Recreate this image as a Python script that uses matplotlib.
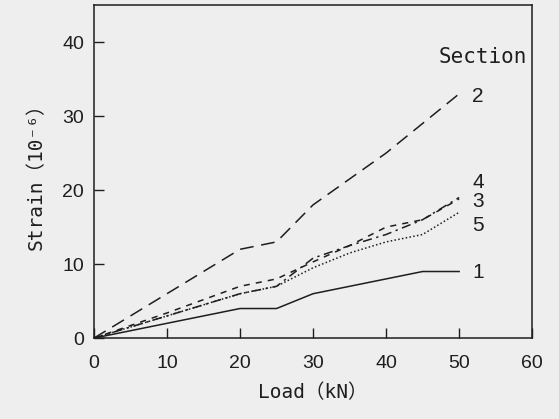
import matplotlib
matplotlib.use("Agg")
import matplotlib.pyplot as plt

load = [0, 5, 10, 15, 20, 25, 30, 35, 40, 45, 50]
sec1 = [0, 1.0, 2.0, 3.0, 4.0, 4.0, 6.0, 7.0, 8.0, 9.0, 9.0]
sec2 = [0, 3.0, 6.0, 9.0, 12.0, 13.0, 18.0, 21.5, 25.0, 29.0, 33.0]
sec3 = [0, 1.7, 3.4, 5.2, 7.0, 8.0, 10.3, 12.5, 15.0, 16.0, 18.8]
sec4 = [0, 1.5, 3.0, 4.5, 6.0, 7.0, 10.8, 12.5, 14.0, 16.0, 19.0]
sec5 = [0, 1.5, 3.0, 4.5, 6.0, 7.0, 9.5, 11.5, 13.0, 14.0, 17.0]
labels = ["1", "2", "3", "4", "5"]
label_y = [8.9, 32.6, 18.5, 21.0, 15.2]

plt.rcParams["font.family"] = ["Liberation Sans", "DejaVu Sans"]
mono = ["DejaVu Sans Mono", "Noto Sans CJK JP"]

bg = "#eeeeee"
ink = "#1e1e1e"
fig = plt.figure(figsize=(5.59, 4.19), dpi=100, facecolor=bg)
ax = fig.add_axes([0.168, 0.193, 0.784, 0.795], facecolor=bg)

lw = 1.1
ax.plot(load, sec1, color=ink, lw=lw, linestyle="-")
ax.plot(load, sec2, color=ink, lw=lw, linestyle=(0, (9, 5)))
ax.plot(load, sec3, color=ink, lw=lw, linestyle=(0, (4, 4)))
ax.plot(load, sec4, color=ink, lw=lw, linestyle=(0, (6, 3, 1.5, 3)))
ax.plot(load, sec5, color=ink, lw=lw, linestyle=(0, (1, 1.5)))

for lab, yv in zip(labels, label_y):
    ax.text(51.8, yv, lab, fontsize=15, color=ink, va="center", ha="left")
ax.text(53.2, 38.0, "Section", fontsize=15, color=ink, va="center", ha="center",
        family=mono)

ax.set_xlim(0, 60)
ax.set_ylim(0, 45)
ax.set_xticks([0, 10, 20, 30, 40, 50, 60])
ax.set_yticks([0, 10, 20, 30, 40])
ax.tick_params(direction="in", length=7, width=1, color=ink, labelsize=14,
               labelcolor=ink)
ax.tick_params(axis="x", pad=12)
ax.tick_params(axis="y", pad=7)
for s in ax.spines.values():
    s.set_color(ink)
    s.set_linewidth(1.1)

ax.set_xlabel("Load（kN）", fontsize=14, color=ink, labelpad=8, family=mono)
ax.set_ylabel("Strain（10⁻⁶）", fontsize=14, color=ink, labelpad=12, family=mono)

fig.savefig("out.png", dpi=100, facecolor=bg)
